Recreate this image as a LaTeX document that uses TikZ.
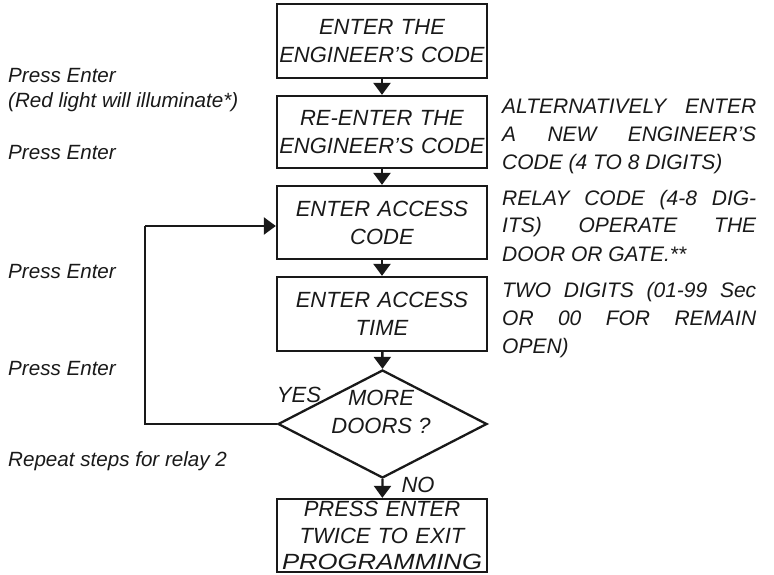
\documentclass[tikz,border=0pt]{standalone}
\usepackage{fontspec}
\setmainfont{Liberation Sans}
\usetikzlibrary{shapes.geometric,arrows.meta}
\begin{document}
\begin{tikzpicture}[x=1pt,y=-1pt,
  every node/.style={font=\fontsize{21}{28}\selectfont\itshape,text=black!90},
  boxfont/.style={font=\fontsize{22}{28}\selectfont\itshape},
  stepbox/.style={draw=black!90,line width=2.3pt,minimum width=210pt,inner sep=0pt,align=center,text width=210pt,boxfont},
  sidetext/.style={anchor=base west,inner sep=0pt,align=left,font=\fontsize{20.6}{25}\selectfont\itshape},
  notetext/.style={anchor=base west,inner sep=0pt,text width=254pt,align=justify},
  flow/.style={draw=black!90,line width=2.3pt,-{Triangle[width=17pt,length=12pt]}},
  plain/.style={draw=black!90,line width=2.3pt}]
\useasboundingbox (0,0) rectangle (774,575);

\node[stepbox,minimum height=74pt] (b1) at (382,41) {ENTER THE\\ENGINEER'S CODE};
\node[stepbox,minimum height=72pt] (b2) at (382,132) {RE-ENTER THE\\ENGINEER'S CODE};
\node[stepbox,minimum height=73pt] (b3) at (382,222.5) {ENTER ACCESS\\CODE};
\node[stepbox,minimum height=74pt] (b4) at (382,314) {ENTER ACCESS\\TIME};
\node[draw=black!90,diamond,line width=2.3pt,minimum width=209pt,minimum height=108pt,inner sep=0pt] (d) at (382.5,424) {};
\node[align=center,inner sep=0pt,boxfont] (dq) at (381,412) {MORE\\DOORS ?};
\node[stepbox,minimum height=73pt,font=\fontsize{22}{26.5}\selectfont\itshape] (b5) at (382,535.5) {PRESS ENTER\\TWICE TO EXIT\\\resizebox{200pt}{\height}{PROGRAMMING}};

\draw[flow] (b1) -- (b2);
\draw[flow] (b2) -- (b3);
\draw[flow] (b3) -- (b4);
\draw[flow] (b4) -- (d.north);
\draw[flow] (d.south) -- (b5);
\coordinate (c1) at (145,424);
\coordinate (c2) at (145,226);
\draw[plain] (d.west) -- (c1) -- (c2);
\draw[flow] (c2) -- (b3.west |- c2);

\node[inner sep=0pt,boxfont] (yes) at (299,395) {YES};
\node[inner sep=0pt,boxfont] (no) at (418,485) {NO};

\node[sidetext] (l1) at (8,83) {Press Enter};
\node[sidetext] (l2) at (8,108) {(Red light will illuminate*)};
\node[sidetext] (l3) at (8,160) {Press Enter};
\node[sidetext] (l4) at (8,278) {Press Enter};
\node[sidetext] (l5) at (8,375) {Press Enter};
\node[sidetext] (l6) at (8,466) {Repeat steps for relay 2};

\node[notetext] (r1) at (502,114) {ALTERNATIVELY ENTER\linebreak A NEW ENGINEER'S\linebreak CODE (4 TO 8 DIGITS)};
\node[notetext] (r2) at (502,205) {RELAY CODE (4-8 DIG-\linebreak ITS) OPERATE THE\linebreak DOOR OR GATE.**};
\node[notetext] (r3) at (502,297) {TWO DIGITS (01-99 Sec\linebreak OR 00 FOR REMAIN\linebreak OPEN)};
\end{tikzpicture}
\end{document}
